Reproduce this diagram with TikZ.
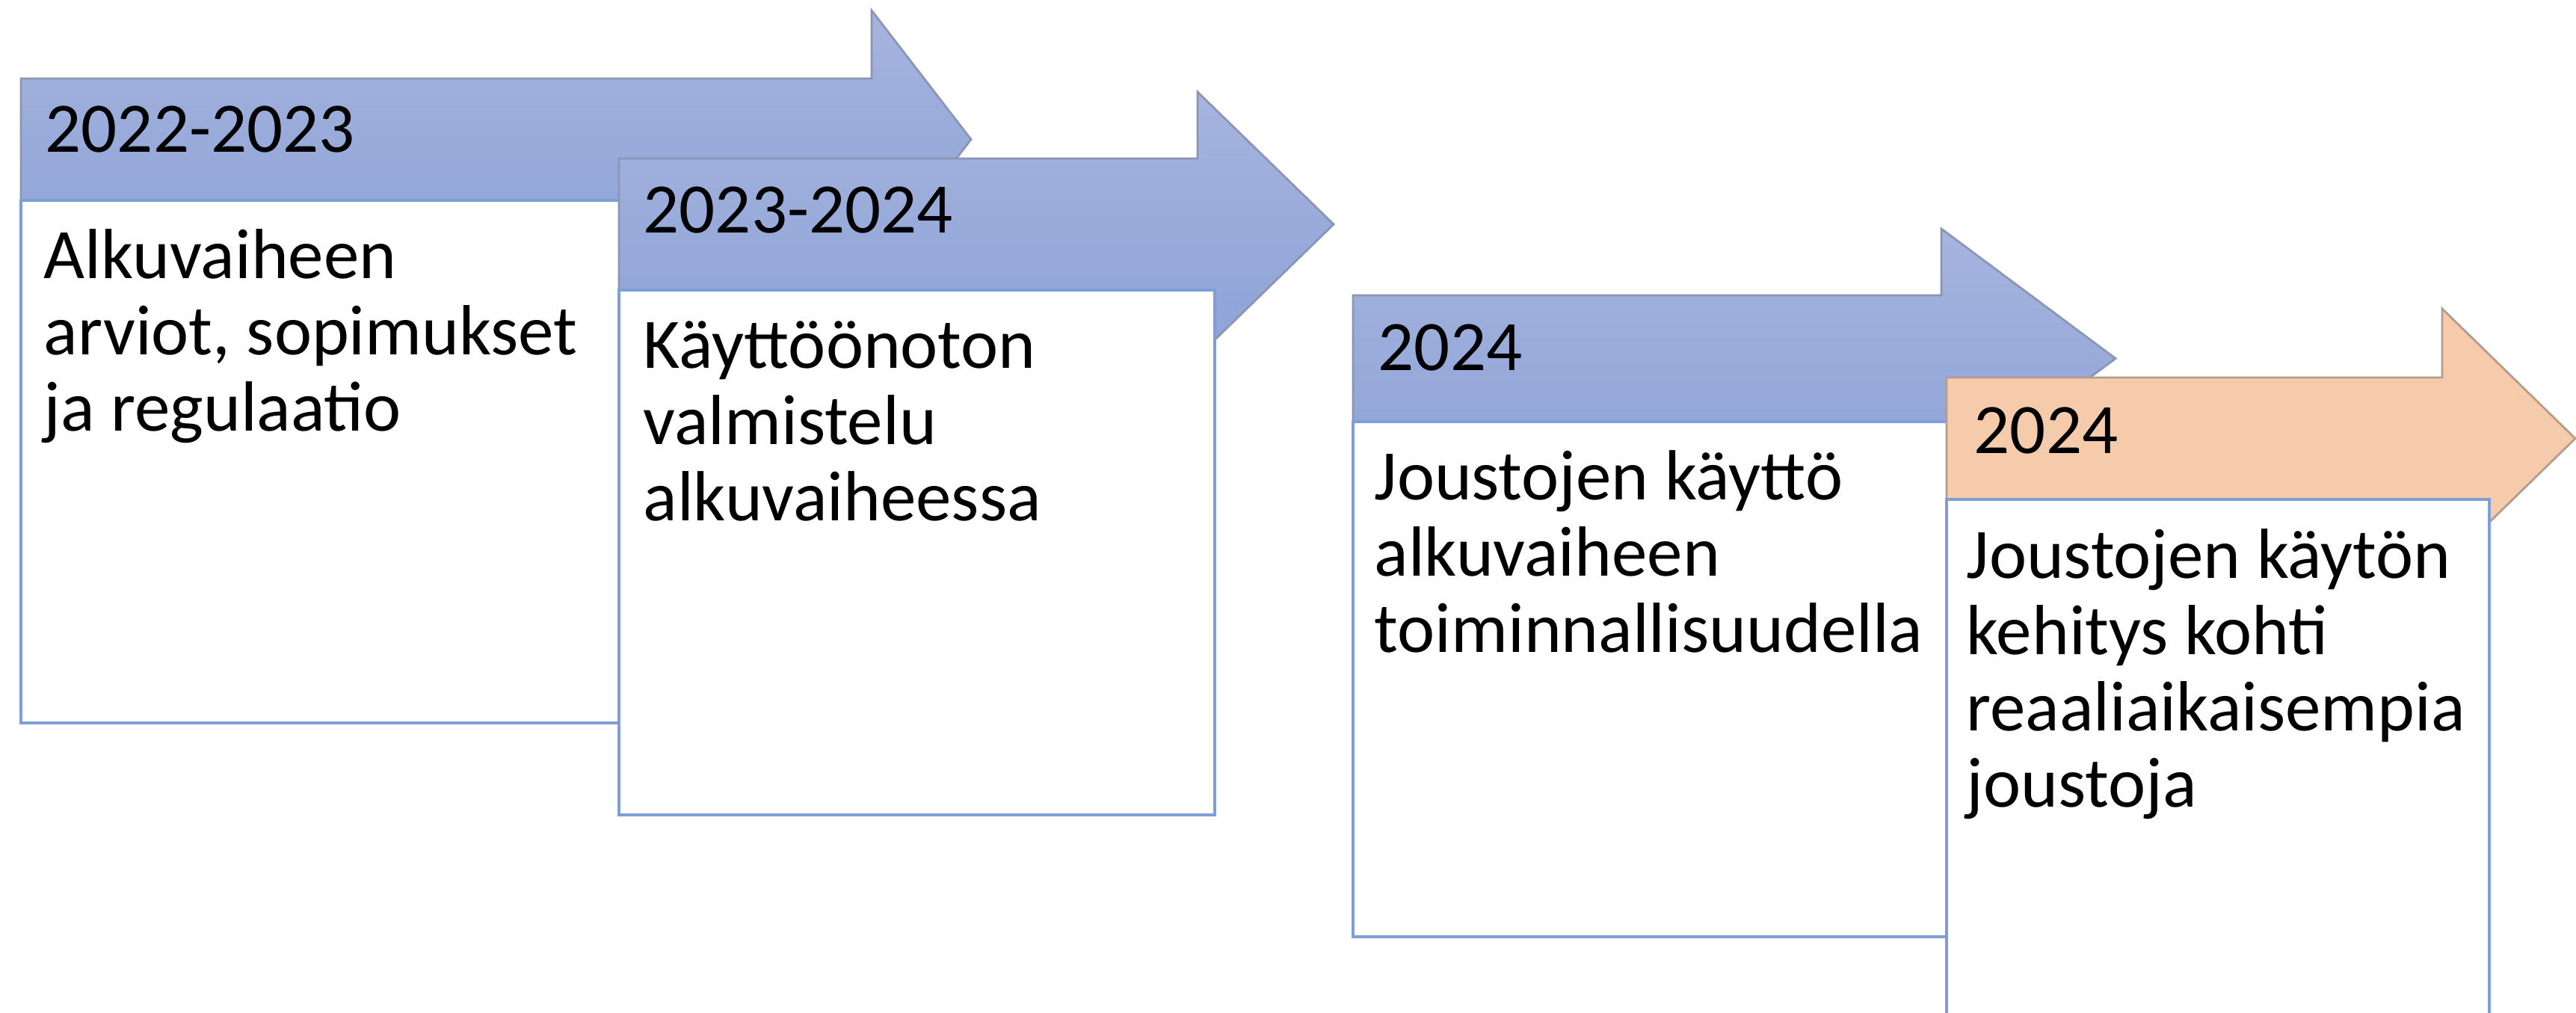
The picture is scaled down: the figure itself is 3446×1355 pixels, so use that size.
\documentclass[tikz,border=0pt]{standalone}
\usepackage{fontspec}
\setmainfont{Carlito}
\definecolor{arrowtop}{HTML}{A6B4DE}
\definecolor{arrowbot}{HTML}{8CA2D7}
\definecolor{arrowline}{HTML}{8C95B2}
\definecolor{orangefill}{HTML}{F6CBAC}
\definecolor{orangeline}{HTML}{B39E8E}
\definecolor{boxline}{HTML}{7F9ED8}
\begin{document}
\begin{tikzpicture}[x=0.01cm,y=-0.01cm,
  bluearrow/.style={top color=arrowtop,bottom color=arrowbot,draw=arrowline,line width=0.8pt},
  orangearrow/.style={fill=orangefill,draw=orangeline,line width=0.8pt},
  phasebox/.style={fill=white,draw=boxline,line width=1.1pt},
  yeartext/.style={anchor=base west,inner sep=0pt,font=\fontsize{27}{29}\selectfont},
  phasetext/.style={anchor=base west,inner sep=0pt,align=left,font=\fontsize{27}{29}\selectfont}]
\useasboundingbox (0,0) rectangle (3446,1355);
\clip (0,0) rectangle (3446,1355);

% First phase: arrow and box (text placed at its last baseline)
\shade[bluearrow] (28,105) -- (1166,105) -- (1166,14) -- (1299,186.5) -- (1166,359) -- (1166,268) -- (28,268) -- cycle;
\draw[phasebox] (28,268) rectangle (900,967);
\node[yeartext] (year1) at (60,204) {2022-2023};
\node[phasetext] (text1) at (58,576) {Alkuvaiheen\\arviot, sopimukset\\ja regulaatio};

% Second phase
\shade[bluearrow] (828,212) -- (1602,212) -- (1602,123) -- (1784,300) -- (1602,477) -- (1602,388) -- (828,388) -- cycle;
\draw[phasebox] (828,388) rectangle (1625,1090);
\node[yeartext] (year2) at (860,312) {2023-2024};
\node[phasetext] (text2) at (860,696) {Käyttöönoton\\valmistelu\\alkuvaiheessa};

% Third phase
\shade[bluearrow] (1810,395) -- (2597,395) -- (2597,306) -- (2830,479.5) -- (2597,653) -- (2597,564) -- (1810,564) -- cycle;
\draw[phasebox] (1810,564) rectangle (2700,1253);
\node[yeartext] (year3) at (1843,495) {2024};
\node[phasetext] (text3) at (1838,872) {Joustojen käyttö\\alkuvaiheen\\toiminnallisuudella};

% Fourth phase, orange arrow cut at the right edge
\fill[orangearrow] (2604,505) -- (3267,505) -- (3267,413) -- (3445,586.5) -- (3267,760) -- (3267,668) -- (2604,668) -- cycle;
\draw[phasebox] (2604,668) rectangle (3330,1400);
\node[yeartext] (year4) at (2640,606) {2024};
\node[phasetext] (text4) at (2630,1079) {Joustojen käytön\\kehitys kohti\\reaaliaikaisempia\\joustoja};

\end{tikzpicture}
\end{document}
